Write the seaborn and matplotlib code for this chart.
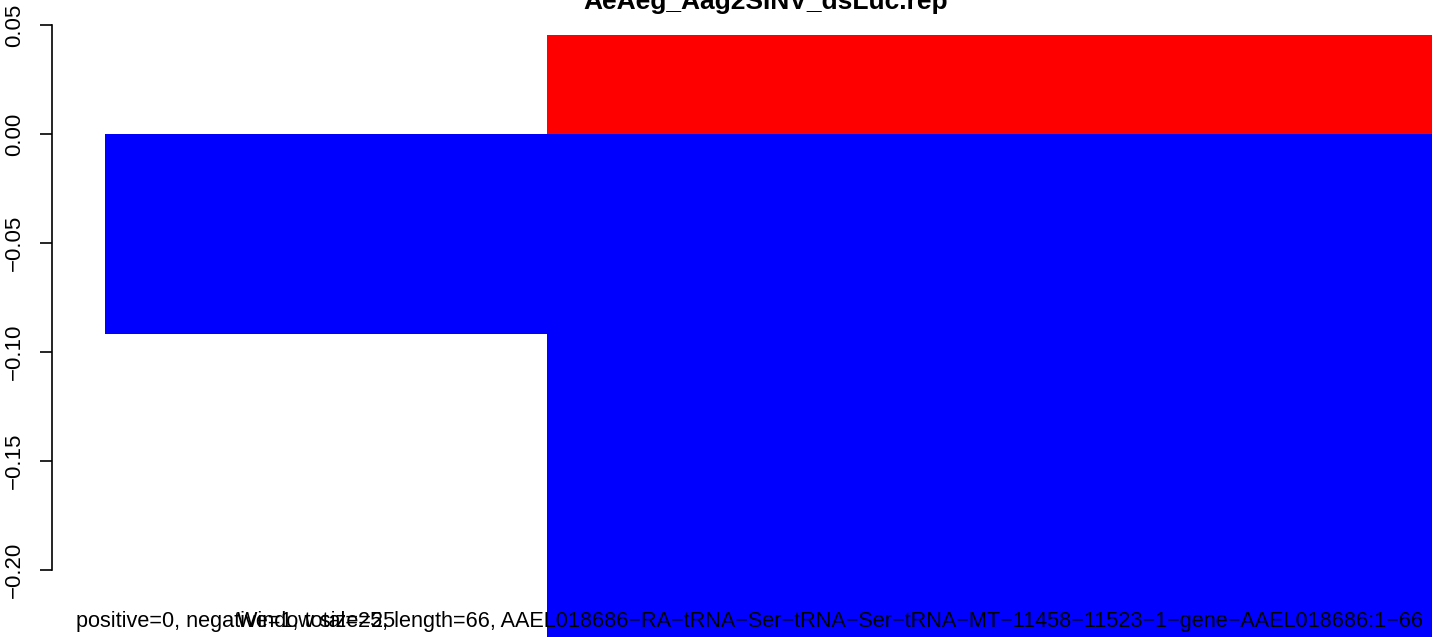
import pandas as pd
import numpy as np
import matplotlib
matplotlib.use("Agg")
import matplotlib.pyplot as plt
import seaborn as sns

# window values
windows = ["1", "2", "3"]
positive = [0.0, 0.0454, 0.0454]
negative = [-0.0916, -0.5, -0.5]
y_ticks = [-0.20, -0.15, -0.10, -0.05, 0.00, 0.05]

title = "AeAeg_Aag2SINV_dsLuc.rep"
sub_text = ("positive=0, negative=1, total=25, length=66, "
            "AAEL018686-RA-tRNA-Ser-tRNA-Ser-tRNA-MT-11458-11523-1-gene-AAEL018686:1-66")
xlab = "Window size=25"

df = pd.DataFrame({
    "window": windows * 2,
    "value": positive + negative,
    "strand": ["positive"] * len(windows) + ["negative"] * len(windows),
})

sns.set_style("white")
plt.rcParams["font.family"] = ["Liberation Sans", "DejaVu Sans"]
plt.rcParams["text.color"] = "black"

W, H = 1444, 637
fig = plt.figure(figsize=(W / 100, H / 100), dpi=100)
ax = fig.add_axes([52 / W, 0, (W - 52) / W, 1])

sns.barplot(data=df, x="window", y="value", hue="strand", order=windows,
            palette={"positive": "#ff0000", "negative": "#0000ff"}, saturation=1,
            dodge=False, width=1, linewidth=0, errorbar=None, legend=False, ax=ax)

unit = 442.3
ax.set_xlim((52 - 105) / unit - 0.5, (W - 105) / unit - 0.5)
px_per = 109 / 0.05
ax.set_ylim(-(H - 134) / px_per, 134 / px_per)

for s in ["top", "right", "bottom"]:
    ax.spines[s].set_visible(False)
ax.spines["left"].set_bounds(-0.20, 0.05)
ax.spines["left"].set_linewidth(1.2)
ax.spines["left"].set_color("black")
ax.set_xticks([])
ax.set_yticks(y_ticks)
ax.set_yticklabels([f"{v:.2f}".replace("-", "\u2212") for v in y_ticks],
                   rotation=90, va="center", fontsize=16)
ax.tick_params(axis="y", left=True, length=8.6, width=1.2, pad=11, colors="black")
ax.set_xlabel("")
ax.set_ylabel("")
ax.set_facecolor("none")

# R draws hyphens as minus signs
fig.text(766 / W, 1 - 9.5 / H, title, ha="center", va="baseline",
         fontsize=19, fontweight="bold", color="black")
fig.text(76 / W, 1 - 627 / H, sub_text.replace("-", "\u2212"), ha="left",
         va="baseline", fontsize=15.6, color="black")
fig.text(316 / W, 1 - 627 / H, xlab, ha="center", va="baseline",
         fontsize=15.6, color="black")

fig.savefig("out.png", dpi=100)
